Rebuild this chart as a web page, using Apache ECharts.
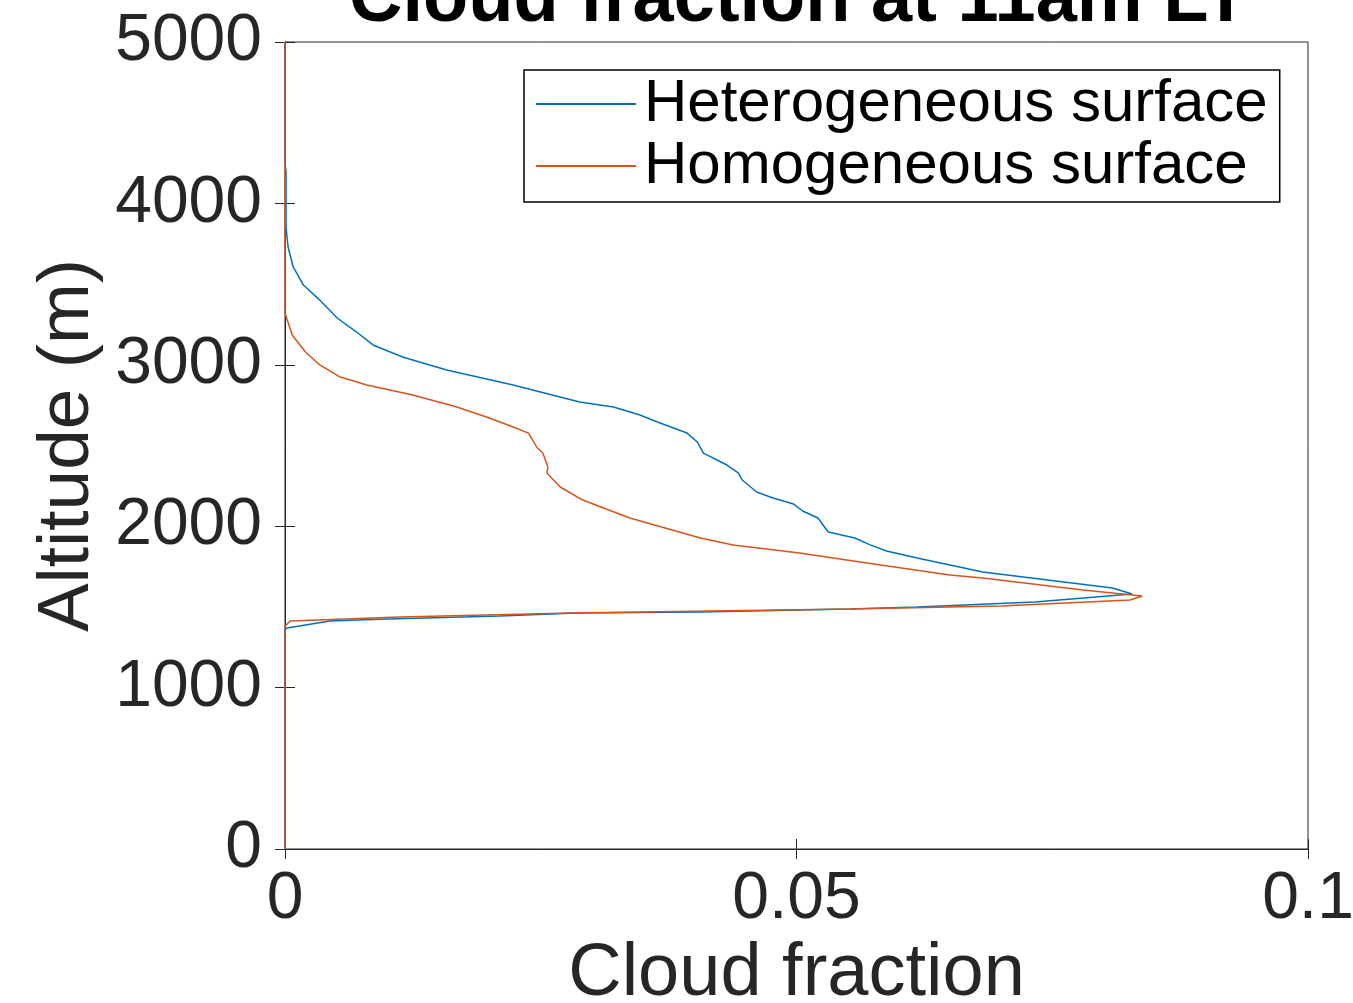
<!DOCTYPE html>
<html>
<head>
<meta charset="utf-8">
<script src="https://cdn.jsdelivr.net/npm/echarts@6/dist/echarts.min.js"></script>
<style>
html,body{margin:0;padding:0;background:#fff;}
#chart{width:1353px;height:1003px;}
</style>
</head>
<body>
<div id="chart"></div>
<script>
// Cloud fraction (x) vs altitude in metres (y)
const heteroCF  = [0, 0, 0.0002, 0.0044, 0.0092, 0.021, 0.0285, 0.0406, 0.0552, 0.0618, 0.0733, 0.0828,
  0.0809, 0.0682, 0.065, 0.0618, 0.0588, 0.0572, 0.0557, 0.0531, 0.0521, 0.0506, 0.0497, 0.0477, 0.0461,
  0.0447, 0.0443, 0.0432, 0.0409, 0.0403, 0.0393, 0.0364, 0.0347, 0.0321, 0.0288, 0.0223, 0.0158, 0.0115,
  0.0086, 0.0070, 0.0051, 0.0034, 0.0018, 0.0008, 0.0003, 0.0001, 0.0001, 0, 0];
const heteroAlt = [0, 1360, 1369, 1413, 1424, 1444, 1462, 1468, 1487, 1499, 1530, 1580,
  1617, 1716, 1760, 1803, 1846, 1884, 1927, 1964, 2051, 2094, 2138, 2175, 2212,
  2286, 2330, 2379, 2453, 2522, 2577, 2646, 2689, 2739, 2770, 2875, 2968, 3048,
  3123, 3203, 3290, 3401, 3494, 3606, 3730, 3854, 4195, 4250, 5000];

const homoCF  = [0, 0, 0.0005, 0.0085, 0.0112, 0.0279, 0.0552, 0.070, 0.0826, 0.0838,
  0.078, 0.0682, 0.065, 0.0569, 0.0503, 0.0438, 0.0406, 0.0337, 0.0291, 0.0269, 0.0256, 0.0257,
  0.0252, 0.0246, 0.0238, 0.0223, 0.0197, 0.0168, 0.0125, 0.0080, 0.0054, 0.0034, 0.0020, 0.0007, 0, 0];
const homoAlt = [0, 1380, 1413, 1431, 1437, 1462, 1487, 1505, 1543, 1568,
  1605, 1679, 1698, 1772, 1834, 1884, 1927, 2051, 2162, 2243, 2330, 2367,
  2453, 2491, 2577, 2615, 2677, 2739, 2813, 2875, 2924, 2999, 3079, 3185, 3321, 5000];

const seriesNames = ['Heterogeneous surface', 'Homogeneous surface'];
const xTicks = [0, 0.05, 0.1];
const yTicks = [0, 1000, 2000, 3000, 4000, 5000];

const pairs = (xs, ys) => xs.map((x, i) => [x, ys[i]]);

const FONT = '"Liberation Sans", Arial, Helvetica, sans-serif';
const AX = '#262626';

const chart = echarts.init(document.getElementById('chart'), null, {renderer: 'canvas'});
chart.setOption({
  animation: false,
  backgroundColor: '#fff',
  title: {
    text: 'Cloud fraction at 11am LT',
    left: 344,
    top: -41,
    textStyle: {fontFamily: FONT, fontSize: 74, fontWeight: 'bold', color: '#000'}
  },
  grid: {left: 285, right: 45, top: 42, bottom: 154, show: true, borderColor: AX, borderWidth: 1,
    backgroundColor: '#fff', containLabel: false, outerBoundsMode: 'none'},
  legend: {
    orient: 'vertical',
    left: 524,
    top: 70,
    backgroundColor: '#fff',
    borderColor: '#000',
    borderWidth: 1.5,
    borderRadius: 0,
    padding: [3, 12, 5, 11],
    itemWidth: 100,
    itemHeight: 2,
    itemGap: 0,
    itemStyle: {opacity: 0},
    data: seriesNames,
    textStyle: {fontFamily: FONT, fontSize: 60, color: '#000', lineHeight: 62, padding: [0, 0, 0, 3]}
  },
  xAxis: [{
    type: 'value', min: xTicks[0], max: xTicks[2], interval: 0.05, position: 'bottom',
    name: 'Cloud fraction', nameLocation: 'middle', nameGap: 88,
    nameTextStyle: {fontFamily: FONT, fontSize: 74, color: AX},
    axisLine: {show: true, lineStyle: {color: AX, width: 1}},
    axisTick: {show: true, inside: true, length: 10, lineStyle: {color: AX}},
    axisLabel: {fontFamily: FONT, fontSize: 66, color: AX, margin: 18,
      formatter: v => (v === 0 ? '0' : String(+v.toFixed(2)))},
    splitLine: {show: false}
  }, {
    type: 'value', min: xTicks[0], max: xTicks[2], interval: 0.05, position: 'top',
    axisLine: {show: true, lineStyle: {color: AX, width: 1}},
    axisTick: {show: true, inside: true, length: 10, lineStyle: {color: AX}},
    axisLabel: {show: false}, splitLine: {show: false}
  }],
  yAxis: [{
    type: 'value', min: yTicks[0], max: yTicks[5], interval: 1000, position: 'left',
    name: 'Altitude (m)', nameLocation: 'middle', nameGap: 175,
    nameTextStyle: {fontFamily: FONT, fontSize: 73, color: AX},
    axisLine: {show: true, lineStyle: {color: AX, width: 1}},
    axisTick: {show: true, inside: true, length: 10, lineStyle: {color: AX}},
    axisLabel: {fontFamily: FONT, fontSize: 66, color: AX, margin: 23, formatter: v => String(v)},
    splitLine: {show: false}
  }, {
    type: 'value', min: yTicks[0], max: yTicks[5], interval: 1000, position: 'right',
    axisLine: {show: true, lineStyle: {color: AX, width: 1}},
    axisTick: {show: true, inside: true, length: 10, lineStyle: {color: AX}},
    axisLabel: {show: false}, splitLine: {show: false}
  }],
  series: [{
    name: seriesNames[0], type: 'line', xAxisIndex: 0, yAxisIndex: 0,
    data: pairs(heteroCF, heteroAlt), symbol: 'none', smooth: false,
    lineStyle: {color: '#0072BD', width: 1.5}, itemStyle: {color: '#0072BD'}
  }, {
    name: seriesNames[1], type: 'line', xAxisIndex: 0, yAxisIndex: 0,
    data: pairs(homoCF, homoAlt), symbol: 'none', smooth: false,
    lineStyle: {color: '#D95319', width: 1.5}, itemStyle: {color: '#D95319'}
  }]
});
</script>
</body>
</html>
